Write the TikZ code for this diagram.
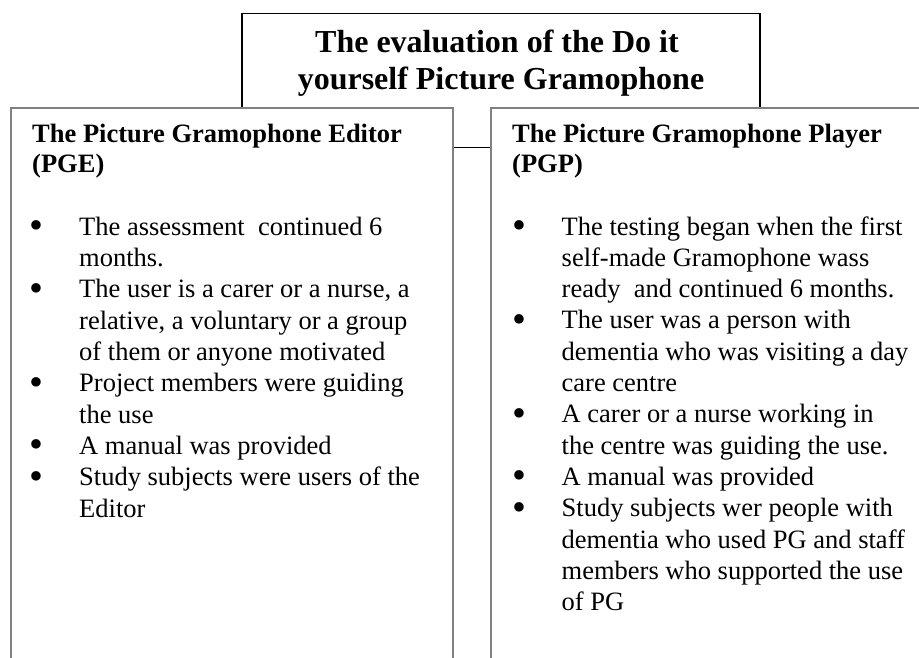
\documentclass[tikz,border=0pt]{standalone}
\usepackage{fontspec}
\setmainfont{Liberation Serif}
\definecolor{boxgray}{RGB}{128,128,128}
\newlength{\bulletwd}
\setlength{\bulletwd}{49.5pt}
\newcommand{\pgbullet}{\makebox[\bulletwd][l]{\raisebox{-3.5pt}{\scalebox{1.5}{\textbullet}}}}
\newcommand{\pgcont}{\hspace*{\bulletwd}}

\begin{document}
\begin{tikzpicture}[
  x=1pt, y=-1pt,
  frame/.style={draw=black, line width=1.5pt, fill=white, inner sep=0pt, anchor=north west},
  column/.style={draw=boxgray, line width=1.8pt, fill=white, inner sep=0pt, anchor=north west},
  heading/.style={anchor=base west, inner sep=0pt, align=left,
                  font=\fontsize{26.5}{30}\selectfont\bfseries},
  items/.style={anchor=base west, inner sep=0pt, align=left,
                font=\fontsize{26.5}{31.3}\selectfont}
]
\useasboundingbox (0,0) rectangle (919,658);
\clip (0,0) rectangle (919,658);

% title frame, its lower edge shows between the two columns
\node[frame, minimum width=518pt, minimum height=134pt] (titlebox) at (241,13) {};
% texts are placed by the baseline of their last line
\node[anchor=base, inner sep=0pt, align=center,
      font=\fontsize{32}{37}\selectfont\bfseries] (title) at (501,90)
  {The evaluation of the Do it\hspace*{8pt}\\yourself Picture Gramophone};

% the two columns
\node[column, minimum width=442pt, minimum height=600pt] (pge) at (10,107) {};
\node[column, minimum width=480pt, minimum height=600pt] (pgp) at (490,107) {};

\node[heading] (pgehead) at (32,173) {The Picture Gramophone Editor\\(PGE)};
\node[heading] (pgphead) at (512,173) {The Picture Gramophone Player\\(PGP)};

\node[items] (pgelist) at (29.5,517) {%
  \pgbullet The assessment\ \ continued 6\\
  \pgcont months.\\
  \pgbullet The user is a carer or a nurse, a\\
  \pgcont relative, a voluntary or a group\\
  \pgcont of them or anyone motivated\\
  \pgbullet Project members were guiding\\
  \pgcont the use\\
  \pgbullet A manual was provided\\
  \pgbullet Study subjects were users of the\\
  \pgcont Editor};

\node[items] (pgplist) at (512,610.6) {%
  \pgbullet The testing began when the first\\
  \pgcont self-made Gramophone wass\\
  \pgcont ready\ \ and continued 6 months.\\
  \pgbullet The user was a person with\\
  \pgcont dementia who was visiting a day\\
  \pgcont care centre\\
  \pgbullet A carer or a nurse working in\\
  \pgcont the centre was guiding the use.\\
  \pgbullet A manual was provided\\
  \pgbullet Study subjects wer people with\\
  \pgcont dementia who used PG and staff\\
  \pgcont members who supported the use\\
  \pgcont of PG};

\end{tikzpicture}
\end{document}
